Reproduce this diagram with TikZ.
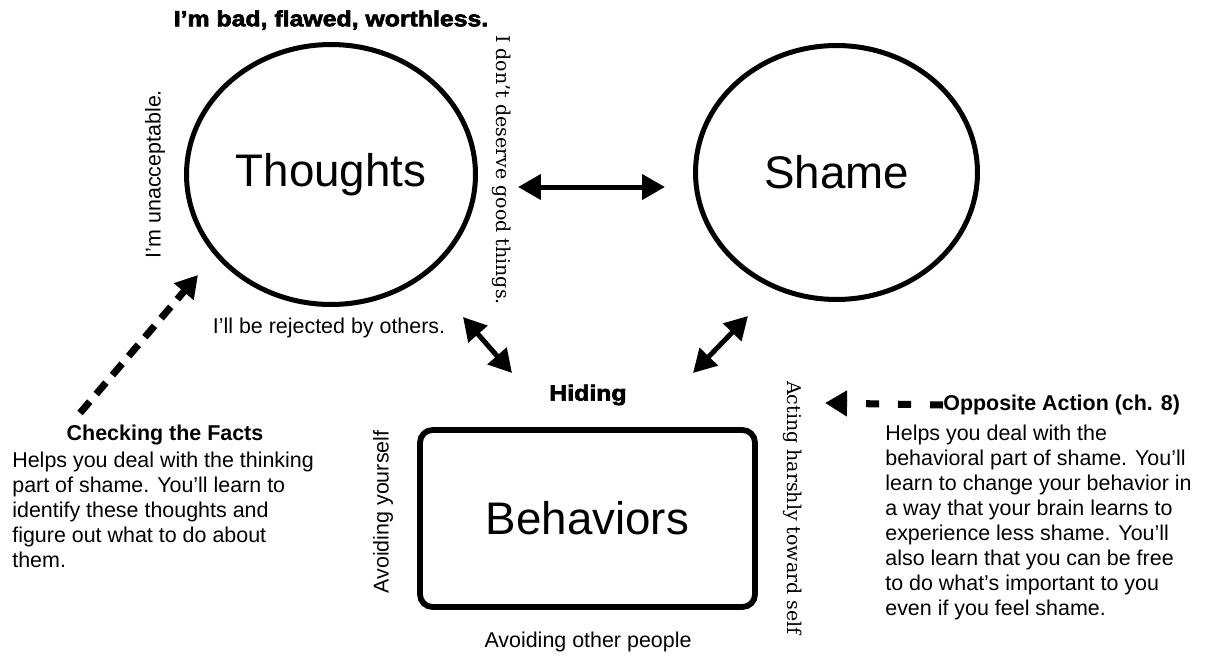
\documentclass[tikz,border=0pt]{standalone}
\usepackage{fontspec}
\setmainfont{Liberation Sans}
\newfontfamily\slabfont{DejaVu Serif}
\newfontfamily\heavyfont[FakeStretch=1.13, BoldFeatures={FakeBold=3}]{Liberation Sans}
\usetikzlibrary{arrows.meta,positioning,shapes.geometric}

\begin{document}
\begin{tikzpicture}[x=0.02cm, y=-0.02cm,
    every node/.style={font=\fontsize{12.2}{14.2}\selectfont, inner sep=0pt},
    plain/.style={font=\normalfont\fontsize{12.2}{14.2}\selectfont},
    bubble/.style={draw, ellipse, line width=2.85pt, font=\fontsize{26}{30}\selectfont},
    boxnode/.style={draw, rectangle, rounded corners=0.25cm, line width=3.3pt,
        minimum width=6.7cm, minimum height=3.54cm, font=\fontsize{26}{30}\selectfont},
    heavy/.style={font=\heavyfont\bfseries\fontsize{12.5}{15}\selectfont},
    head/.style={font=\bfseries\fontsize{12.2}{14.2}\selectfont},
    slab/.style={font=\slabfont\fontsize{10.8}{13}\selectfont},
    link/.style={line width=2.85pt, {Triangle[length=13pt,width=14pt]}-{Triangle[length=13pt,width=14pt]}},
    hint/.style={line width=4pt, -{Triangle[length=12.5pt,width=14pt]}}]

\useasboundingbox (0,0) rectangle (1207,656);

% Thoughts, shame and behaviors
\node[bubble, minimum width=5.78cm, minimum height=5.2cm] (thoughts) at (331,174.5) {Thoughts};
\node[bubble, minimum width=5.64cm, minimum height=5.08cm] (shame) at (836.5,172.5) {Shame};
\node[boxnode] (behav) at (587.5,518.5) {Behaviors};

% Labels round the three parts
\node[heavy] (bad) at (331,20) {I’m bad, flawed, worthless.};
\node[plain, rotate=90] (unacc) at (155,174) {I’m unacceptable.};
\node[slab, rotate=-90] (deserve) at (502,170) {I don’t deserve good things.};
\node[plain] (reject) at (329,328) {I’ll be rejected by others.};
\node[heavy] (hiding) at (588,395) {Hiding};
\node[plain, rotate=90] (avself) at (383,512) {Avoiding yourself};
\node[slab, rotate=-90] (harsh) at (793,508) {Acting harshly toward self};
\node[plain] (avother) at (588,642) {Avoiding other people};

% Arrow ends
\coordinate (ts-a) at (518,187);
\coordinate (ts-b) at (665,187);
\coordinate (tb-a) at (463,317);
\coordinate (tb-b) at (512,373);
\coordinate (sb-a) at (748,316);
\coordinate (sb-b) at (693,373);

\draw[link] (ts-a) -- (ts-b);
\draw[link] (tb-a) -- (tb-b);
\draw[link] (sb-a) -- (sb-b);

% Checking the facts (left)
\node[head] (facts) at (165,435) {Checking the Facts};
\node[plain, anchor=north west, align=left] (factstext) at (12,452)
    {Helps you deal with the thinking\\
     part of shame. You’ll learn to\\
     identify these thoughts and\\
     figure out what to do about\\
     them.};
\coordinate (facts-tail) at (80,413);
\coordinate (facts-tip) at (198,275);
\draw[hint, dash pattern=on 8.5pt off 5.7pt] (facts-tail) -- (facts-tip);

% Opposite action (right)
\node[head, anchor=west] (opp) at (943,405) {Opposite Action (ch. 8)};
\node[plain, anchor=north west, align=left] (opptext) at (885,425)
    {Helps you deal with the\\
     behavioral part of shame. You’ll\\
     learn to change your behavior in\\
     a way that your brain learns to\\
     experience less shame. You’ll\\
     also learn that you can be free\\
     to do what’s important to you\\
     even if you feel shame.};
\coordinate (opp-tip) at (825,403);
\draw[hint, dash pattern=on 7.4pt off 10.8pt] (opp.west) -- (opp-tip);

\end{tikzpicture}
\end{document}
